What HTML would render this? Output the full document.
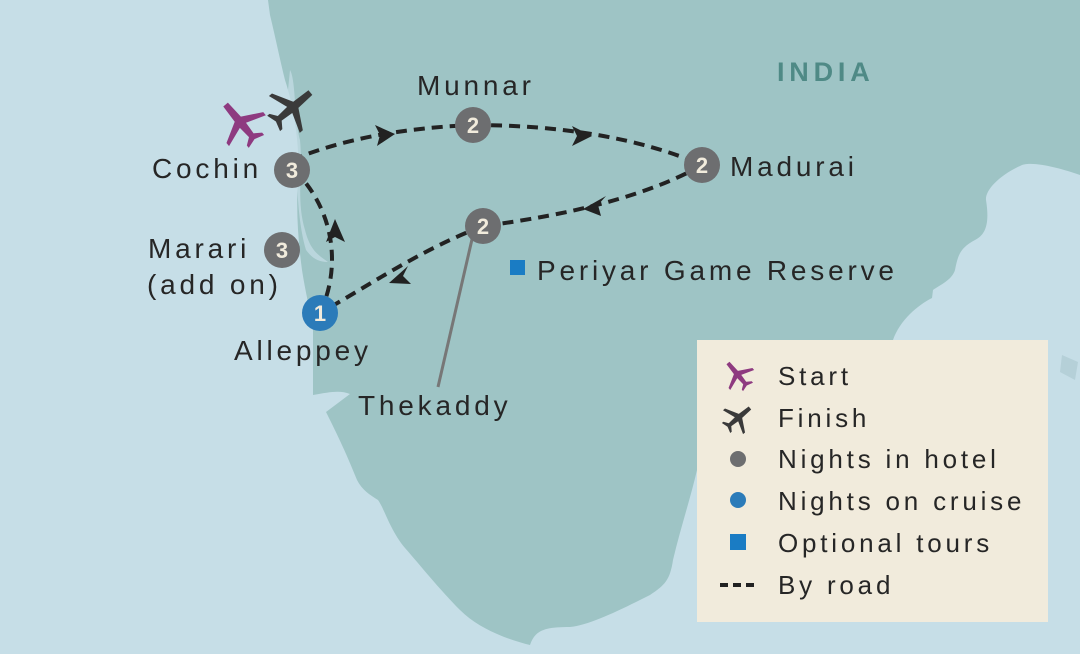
<!DOCTYPE html>
<html><head><meta charset="utf-8"><style>
html,body{margin:0;padding:0;width:1080px;height:654px;overflow:hidden;background:#c6dee7}
svg{display:block}
text{font-family:"Liberation Sans",sans-serif;fill:#262626}
</style></head><body>
<svg width="1080" height="654" viewBox="0 0 1080 654" xmlns="http://www.w3.org/2000/svg">
<rect width="1080" height="654" fill="#c6dee7"/>
<path fill="#9ec4c5" d="M268,0 L1080,0 L1080,175 C1060,168 1030,160 1020,166 C1000,175 985,190 986,200 C990,225 985,235 975,240 C960,248 958,255 955,270 C952,280 940,285 933,290 L932,298 C918,305 900,320 893,340 L697,340 L697,470 C690,500 680,530 673,560 C670,580 665,585 650,595 C620,610 590,625 570,627 C545,627 535,630 530,645 C510,640 480,630 460,610 C440,590 420,565 405,548 C390,530 385,510 378,500 C370,495 362,490 357,480 C345,450 335,430 326,412 L350,394 C340,390 330,392 313,395 L313,330 C310,310 305,290 302,270 C298,240 296,210 298,180 C300,150 295,110 285,80 C280,60 276,40 270,15 Z"/>
<path fill="#c6dee7" d="M290,70 C296,80 294,120 300,140 C303,170 296,200 305,230 C310,250 318,255 328,262 C318,262 312,258 306,250 C300,230 297,200 297,170 C296,140 290,110 288,90 Z" opacity="0.7"/>
<path fill="#b5d0d8" d="M1062,355 L1078,362 L1075,380 L1060,372 Z"/>
<g fill="none" stroke="#222" stroke-width="4" stroke-dasharray="11,7">
<path d="M292,160 C340,140 400,128 473,125"/>
<path d="M473,125 C560,125 640,138 702,165"/>
<path d="M702,165 C650,195 570,215 483,226"/>
<path d="M483,226 C420,250 370,285 320,313"/>
<path d="M320,313 C340,270 335,220 305,182"/>
</g>
<line x1="473" y1="235" x2="438" y2="387" stroke="#777" stroke-width="3"/>
<g fill="#222">
<path d="M395,134 L375,125 L380,135 L377,146 Z"/>
<path d="M592,136 L572,126 L577,136 L572,146 Z"/>
<path d="M583,209 L606,196 L598,205 L601,216 Z"/>
<path d="M389,283 L408,266 L403,276 L411,284 Z"/>
<path d="M335,219 L326,242 L335,237 L345,242 Z"/>
</g>
<g font-size="22" font-weight="bold" text-anchor="middle">
<circle cx="292" cy="170" r="18" fill="#6d6e70"/><text x="292" y="178" style="fill:#f1ebdc">3</text>
<circle cx="282" cy="250" r="18" fill="#6d6e70"/><text x="282" y="258" style="fill:#f1ebdc">3</text>
<circle cx="473" cy="125" r="18" fill="#6d6e70"/><text x="473" y="133" style="fill:#f1ebdc">2</text>
<circle cx="702" cy="165" r="18" fill="#6d6e70"/><text x="702" y="173" style="fill:#f1ebdc">2</text>
<circle cx="483" cy="226" r="18" fill="#6d6e70"/><text x="483" y="234" style="fill:#f1ebdc">2</text>
<circle cx="320" cy="313" r="18" fill="#2b7bb9"/><text x="320" y="321" style="fill:#f1ebdc">1</text>
</g>
<g font-size="28" letter-spacing="3.8">
<text x="152" y="178">Cochin</text>
<text x="417" y="95">Munnar</text>
<text x="730" y="176">Madurai</text>
<text x="148" y="258">Marari</text>
<text x="147" y="294">(add on)</text>
<text x="234" y="360">Alleppey</text>
<text x="358" y="415">Thekaddy</text>
<text x="537" y="280">Periyar Game Reserve</text>
<text x="777" y="81" font-weight="bold" style="fill:#4f8a86" font-size="27" letter-spacing="4.8">INDIA</text>
</g>
<rect x="510" y="260" width="15" height="15" fill="#1a7cc4"/>
<g transform="translate(241,123) rotate(-40)" fill="#8e3a80">
<path d="M-3,-24 L3,-24 L4,-5 L24,6 L24,10 L4,3 L3,16 L10,21 L10,24 L0,21 L-10,24 L-10,21 L-3,16 L-4,3 L-24,10 L-24,6 L-4,-5 Z"/></g>
<g transform="translate(292,108) rotate(50)" fill="#3a3a3a">
<path d="M-3,-24 L3,-24 L4,-5 L24,6 L24,10 L4,3 L3,16 L10,21 L10,24 L0,21 L-10,24 L-10,21 L-3,16 L-4,3 L-24,10 L-24,6 L-4,-5 Z"/></g>
<rect x="697" y="340" width="351" height="282" fill="#f1ebdc"/>
<g transform="translate(738,375) rotate(-40) scale(0.65)" fill="#8e3a80">
<path d="M-3,-24 L3,-24 L4,-5 L24,6 L24,10 L4,3 L3,16 L10,21 L10,24 L0,21 L-10,24 L-10,21 L-3,16 L-4,3 L-24,10 L-24,6 L-4,-5 Z"/></g>
<g transform="translate(738,418) rotate(50) scale(0.65)" fill="#3a3a3a">
<path d="M-3,-24 L3,-24 L4,-5 L24,6 L24,10 L4,3 L3,16 L10,21 L10,24 L0,21 L-10,24 L-10,21 L-3,16 L-4,3 L-24,10 L-24,6 L-4,-5 Z"/></g>
<circle cx="738" cy="459" r="8" fill="#6d6e70"/>
<circle cx="738" cy="500" r="8" fill="#2b7bb9"/>
<rect x="730" y="534" width="16" height="16" fill="#1a7cc4"/>
<line x1="720" y1="585" x2="758" y2="585" stroke="#222" stroke-width="4" stroke-dasharray="8,5"/>
<g font-size="26" letter-spacing="3.8">
<text x="778" y="385">Start</text>
<text x="778" y="427">Finish</text>
<text x="778" y="468">Nights in hotel</text>
<text x="778" y="510">Nights on cruise</text>
<text x="778" y="552">Optional tours</text>
<text x="778" y="594">By road</text>
</g>
</svg>
</body></html>
